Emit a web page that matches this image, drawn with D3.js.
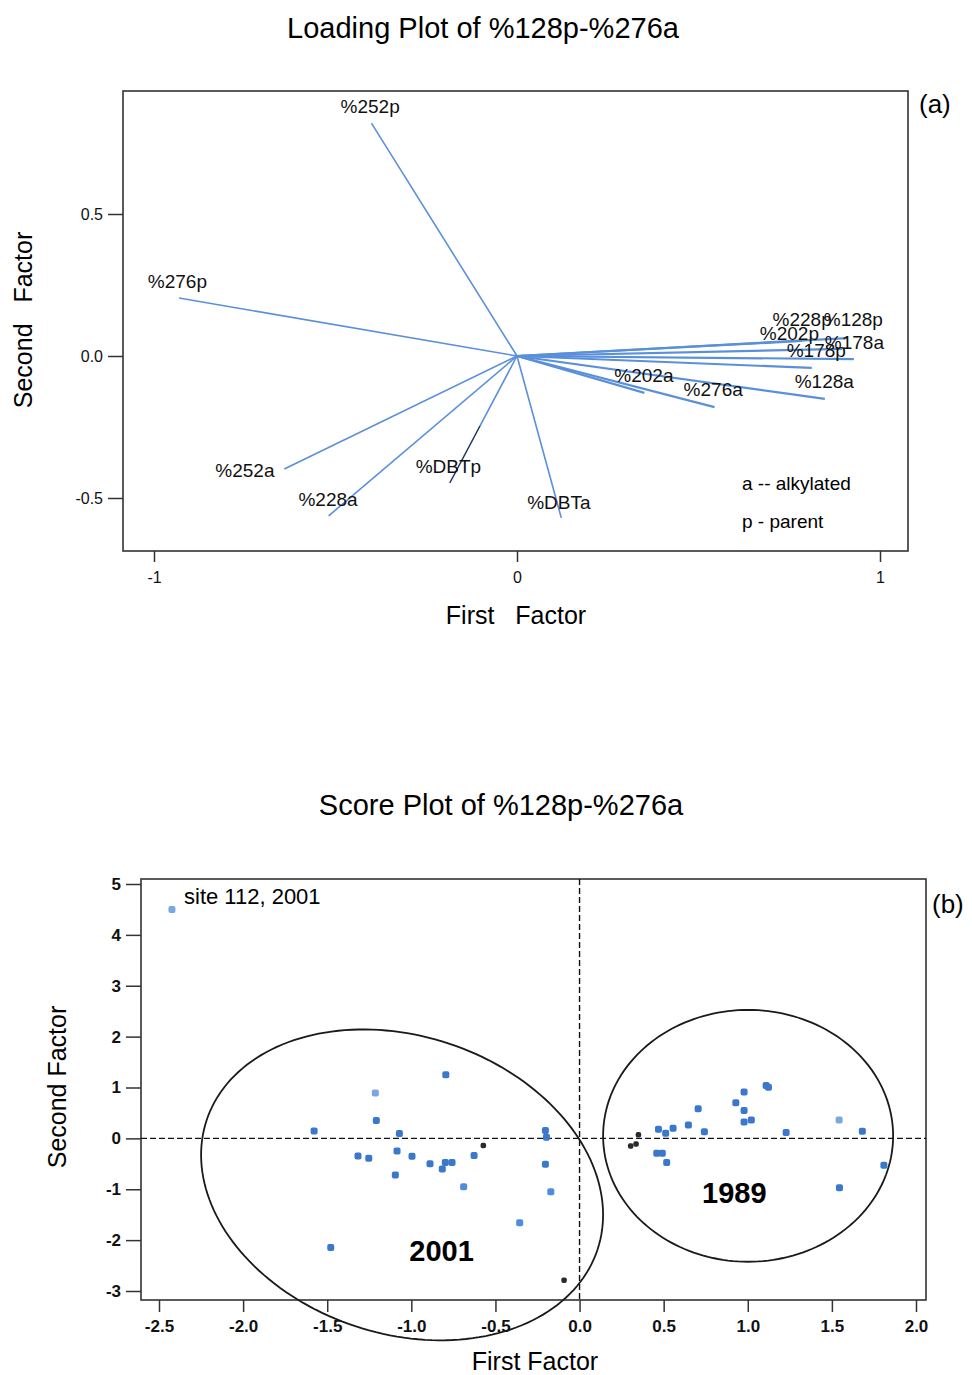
<!DOCTYPE html>
<html><head><meta charset="utf-8">
<script src="https://cdn.jsdelivr.net/npm/d3@7"></script>
<style>
html,body{margin:0;padding:0;background:#fff;}
svg{display:block;font-family:"Liberation Sans",Arial,sans-serif;}
</style></head>
<body><svg id="c" width="972" height="1375"></svg>
<script>
// ---------- Loading plot data ----------
const loadVars = ["%128p","%128a","%178p","%178a","%202p","%202a","%228p","%228a","%252p","%252a","%276p","%276a","%DBTp","%DBTa"];
const loadF1 = [0.909, 0.848, 0.928, 0.895, 0.812, 0.351, 0.785, -0.519, -0.401, -0.641, -0.931, 0.544, -0.185, 0.122];
const loadF2 = [0.063, -0.151, -0.011, 0.025, -0.042, -0.130, 0.053, -0.563, 0.820, -0.398, 0.204, -0.180, -0.447, -0.570];
// label anchor points (data units)
const labelF1 = [0.845, 0.765, 0.743, 0.848, 0.669, 0.268, 0.704, -0.602, -0.486, -0.831, -1.017, 0.459, -0.279, 0.028];
const labelF2 = [0.106, -0.113, -0.004, 0.025, 0.056, -0.092, 0.106, -0.528, 0.856, -0.426, 0.239, -0.141, -0.412, -0.539];
const loadXTicks = [-1, 0, 1];
const loadYTicks = [-0.5, 0.0, 0.5];

// ---------- Score plot data ----------
const scoreF1 = [-2.423,-0.795,-1.214,-1.208,-1.578,-1.071,-0.203,-0.197,-0.572,-1.317,-1.253,-1.085,-0.996,-0.889,-0.798,-0.758,-0.816,-0.627,-1.095,-0.203,-0.689,-0.171,-0.356,-1.479,-0.092,
  0.350,0.336,0.304,0.469,0.512,0.556,0.647,0.705,0.742,0.929,0.978,0.978,0.978,1.021,1.109,1.123,1.228,1.543,1.681,0.459,0.492,0.518,1.809,1.545];
const scoreF2 = [4.50,1.25,0.89,0.35,0.147,0.095,0.153,0.023,-0.14,-0.344,-0.39,-0.246,-0.35,-0.50,-0.475,-0.475,-0.60,-0.338,-0.72,-0.51,-0.95,-1.05,-1.66,-2.145,-2.79,
  0.07,-0.11,-0.15,0.18,0.10,0.20,0.265,0.58,0.13,0.70,0.91,0.55,0.32,0.36,1.04,1.005,0.115,0.36,0.14,-0.29,-0.29,-0.475,-0.53,-0.97];
const scoreShade = ["light","dark","light","dark","dark","dark","dark","dark","black","dark","dark","dark","dark","dark","dark","dark","dark","dark","dark","dark","mid","mid","mid","dark","black",
  "black","black","black","dark","dark","dark","dark","dark","dark","dark","dark","dark","dark","dark","dark","dark","dark","light","dark","dark","dark","dark","dark","dark"];
const scoreXTicks = [-2.5,-2.0,-1.5,-1.0,-0.5,0.0,0.5,1.0,1.5,2.0];
const scoreYTicks = [-3,-2,-1,0,1,2,3,4,5];
// group ellipses: centre and two conjugate semi-diameters (data units)
const ellipseNames = ["2001","1989"];
const ellCX = [-1.055, 1.002];
const ellCY = [-0.914, 0.05];
const ellUX = [1.162, 0.862];
const ellUY = [-1.271, 0.0];
const ellVX = [-0.278, 0.0];
const ellVY = [-2.778, 2.475];
const ellLabelX = [-0.82, 0.92];
const ellLabelY = [-2.42, -1.28];

const svg = d3.select("#c");
const shadeColor = {dark:"#3b78cc", mid:"#4f8ddc", light:"#7aa7e0", black:"#2a2a2a"};
const hy = f => (d => f(d).replace("\u2212","-"));

// ================= (a) Loading plot =================
(function(){
  const L=123, R=908, T=91, B=551;
  const x = d3.scaleLinear().domain([-1,1]).range([154,880]);
  const y = d3.scaleLinear().domain([-0.5,0.5]).range([498,214]);
  const g = svg.append("g");
  g.append("text").attr("x",483).attr("y",38).attr("text-anchor","middle")
    .attr("font-size",29).text("Loading Plot of %128p-%276a");
  g.append("rect").attr("x",L).attr("y",T).attr("width",R-L).attr("height",B-T)
    .attr("fill","none").attr("stroke","#333").attr("stroke-width",1.6);
  const ax = d3.axisBottom(x).tickValues(loadXTicks).tickSize(11).tickPadding(10).tickFormat(hy(d3.format("d")));
  const xa = g.append("g").attr("transform",`translate(0,${B})`).call(ax);
  xa.select(".domain").remove();
  xa.selectAll("line").attr("stroke","#333").attr("stroke-width",1.5);
  xa.selectAll("text").attr("font-size",16).attr("font-family","Liberation Sans").attr("fill","#111");
  const ay = d3.axisLeft(y).tickValues(loadYTicks).tickSize(15).tickPadding(5).tickFormat(hy(d3.format(".1f")));
  const ya = g.append("g").attr("transform",`translate(${L},0)`).call(ay);
  ya.select(".domain").remove();
  ya.selectAll("line").attr("stroke","#333").attr("stroke-width",1.5);
  ya.selectAll("text").attr("font-size",16).attr("font-family","Liberation Sans").attr("fill","#111");
  g.append("text").attr("x",516).attr("y",624).attr("text-anchor","middle").attr("font-size",25)
    .style("white-space","pre").text("First   Factor");
  g.append("text").attr("transform","translate(32,320) rotate(-90)").attr("text-anchor","middle").attr("font-size",25)
    .style("white-space","pre").text("Second   Factor");
  const idx = d3.range(loadVars.length);
  g.selectAll("line.vec").data(idx).join("line").attr("class","vec")
    .attr("x1",x(0)).attr("y1",y(0))
    .attr("x2",i=>x(loadF1[i])).attr("y2",i=>y(loadF2[i]))
    .attr("stroke","#5a8fdc").attr("stroke-width",i=>(loadF1[i]>0.3?2.2:1.6));
  const di = loadVars.indexOf("%DBTp");
  g.append("line").attr("x1",x(loadF1[di]*0.55)).attr("y1",y(loadF2[di]*0.55))
    .attr("x2",x(loadF1[di])).attr("y2",y(loadF2[di])).attr("stroke","#222").attr("stroke-width",1);
  g.selectAll("text.lab").data(idx).join("text").attr("class","lab")
    .attr("x",i=>x(labelF1[i])).attr("y",i=>y(labelF2[i]))
    .attr("font-size",19).attr("fill","#111").text(i=>loadVars[i]);
  g.append("text").attr("x",742).attr("y",490).attr("font-size",19).text("a -- alkylated");
  g.append("text").attr("x",742).attr("y",528).attr("font-size",19).text("p - parent");
  g.append("text").attr("x",919).attr("y",113).attr("font-size",26).text("(a)");
})();

// ================= (b) Score plot =================
(function(){
  const L=141, R=926, T=879, B=1300;
  const x = d3.scaleLinear().domain([-2.5,2.0]).range([159,916]);
  const y = d3.scaleLinear().domain([-3,5]).range([1291,884]);
  const g = svg.append("g");
  g.append("text").attr("x",501).attr("y",815).attr("text-anchor","middle")
    .attr("font-size",29).text("Score Plot of %128p-%276a");
  g.append("rect").attr("x",L).attr("y",T).attr("width",R-L).attr("height",B-T)
    .attr("fill","none").attr("stroke","#333").attr("stroke-width",1.6);
  const ax = d3.axisBottom(x).tickValues(scoreXTicks).tickSize(12).tickPadding(8).tickFormat(hy(d3.format(".1f")));
  const xa = g.append("g").attr("transform",`translate(0,${B})`).call(ax);
  xa.select(".domain").remove();
  xa.selectAll("line").attr("stroke","#333").attr("stroke-width",1.5);
  xa.selectAll("text").attr("font-size",17).attr("font-weight","bold").attr("font-family","Liberation Sans").attr("fill","#111");
  const ay = d3.axisLeft(y).tickValues(scoreYTicks).tickSize(15).tickPadding(5).tickFormat(hy(d3.format("d")));
  const ya = g.append("g").attr("transform",`translate(${L},0)`).call(ay);
  ya.select(".domain").remove();
  ya.selectAll("line").attr("stroke","#333").attr("stroke-width",1.5);
  ya.selectAll("text").attr("font-size",17).attr("font-weight","bold").attr("font-family","Liberation Sans").attr("fill","#111");
  g.append("text").attr("x",535).attr("y",1370).attr("text-anchor","middle").attr("font-size",25).text("First Factor");
  g.append("text").attr("transform","translate(66,1087) rotate(-90)").attr("text-anchor","middle").attr("font-size",25).text("Second Factor");
  g.append("line").attr("x1",L).attr("x2",R).attr("y1",y(0)).attr("y2",y(0))
    .attr("stroke","#111").attr("stroke-width",1.4).attr("stroke-dasharray","6,3");
  g.append("line").attr("x1",x(0)).attr("x2",x(0)).attr("y1",T).attr("y2",B)
    .attr("stroke","#111").attr("stroke-width",1.4).attr("stroke-dasharray","6,3");
  const line = d3.line().x(d=>x(d[0])).y(d=>y(d[1])).curve(d3.curveLinearClosed);
  ellipseNames.forEach((nm,k)=>{
    const pts = d3.range(0,360,2).map(a=>{
      const t=a*Math.PI/180;
      return [ellCX[k]+ellUX[k]*Math.cos(t)+ellVX[k]*Math.sin(t), ellCY[k]+ellUY[k]*Math.cos(t)+ellVY[k]*Math.sin(t)];
    });
    g.append("path").attr("d",line(pts)).attr("fill","none").attr("stroke","#1a1a1a").attr("stroke-width",1.8);
    g.append("text").attr("x",x(ellLabelX[k])).attr("y",y(ellLabelY[k])).attr("text-anchor","middle")
      .attr("font-size",29).attr("font-weight","bold").text(nm);
  });
  const idx = d3.range(scoreF1.length);
  const sz = i => scoreShade[i]==="black" ? 5.5 : 7;
  g.selectAll("rect.pt").data(idx).join("rect").attr("class","pt")
    .attr("x",i=>x(scoreF1[i])-sz(i)/2)
    .attr("y",i=>y(scoreF2[i])-sz(i)/2)
    .attr("width",sz).attr("height",sz)
    .attr("rx",2).attr("fill",i=>shadeColor[scoreShade[i]]);
  g.append("text").attr("x",184).attr("y",904).attr("font-size",22).text("site 112, 2001");
  g.append("text").attr("x",932).attr("y",913).attr("font-size",26).text("(b)");
})();
</script></body></html>
